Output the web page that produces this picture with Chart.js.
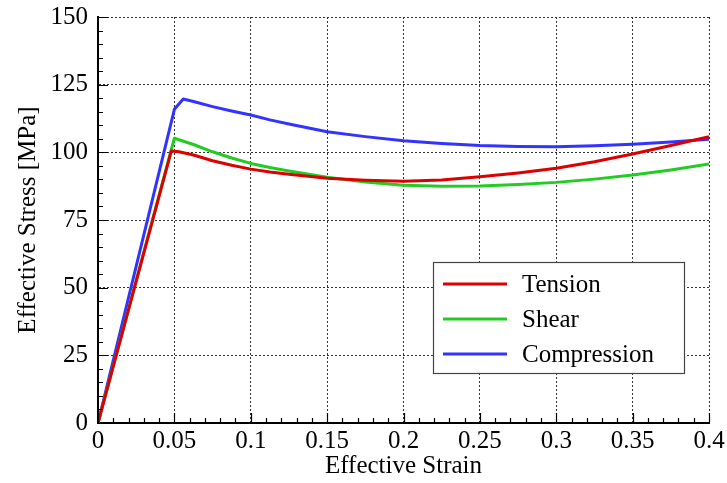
<!DOCTYPE html>
<html>
<head>
<meta charset="utf-8">
<script src="https://cdn.jsdelivr.net/npm/chart.js@4.4.1/dist/chart.umd.min.js"></script>
<style>
html,body{margin:0;padding:0;background:#fff;}
#wrap{width:727px;height:483px;position:relative;}
</style>
</head>
<body>
<div id="wrap"><canvas id="c" width="727" height="483"></canvas></div>
<script>
const seriesNames = ['Tension', 'Shear', 'Compression'];
const seriesColors = ['#dd0000', '#22cc22', '#3333ff'];

const tensionStrain = [0, 0.048, 0.053, 0.0625, 0.075, 0.0875, 0.1, 0.1125, 0.125, 0.15, 0.175, 0.2, 0.225, 0.25, 0.275, 0.3, 0.325, 0.35, 0.375, 0.4];
const tensionStress = [0, 100.5, 100.2, 99.0, 96.9, 95.2, 93.8, 92.7, 91.9, 90.4, 89.7, 89.3, 89.8, 91.0, 92.4, 94.1, 96.5, 99.4, 102.5, 105.8];

const shearStrain = [0, 0.05, 0.0625, 0.075, 0.0875, 0.1, 0.1125, 0.125, 0.15, 0.175, 0.2, 0.225, 0.25, 0.275, 0.3, 0.325, 0.35, 0.375, 0.4];
const shearStress = [0, 105.2, 102.9, 100.2, 97.9, 95.9, 94.4, 93.1, 90.8, 89.0, 87.8, 87.5, 87.6, 88.1, 88.9, 90.1, 91.6, 93.5, 95.7];

const compStrain = [0, 0.05, 0.0558, 0.0625, 0.075, 0.0875, 0.1, 0.1125, 0.125, 0.15, 0.175, 0.2, 0.225, 0.25, 0.275, 0.3, 0.325, 0.35, 0.375, 0.4];
const compStress = [0, 115.9, 119.7, 118.8, 116.9, 115.3, 113.8, 112.0, 110.5, 107.6, 105.8, 104.3, 103.3, 102.5, 102.2, 102.1, 102.4, 103.0, 103.8, 104.8];

const xTickValues = [0, 0.05, 0.1, 0.15, 0.2, 0.25, 0.3, 0.35, 0.4];
const yTickValues = [0, 25, 50, 75, 100, 125, 150];
const xTitle = 'Effective Strain';
const yTitle = 'Effective Stress [MPa]';

const FONT = "'Liberation Serif', 'Times New Roman', serif";

function pts(xs, ys) { return xs.map((x, i) => ({x: x, y: ys[i]})); }
const allX = [tensionStrain, shearStrain, compStrain];
const allY = [tensionStress, shearStress, compStress];

const datasets = seriesNames.map((n, i) => ({
  label: n,
  data: pts(allX[i], allY[i]),
  borderColor: seriesColors[i],
  backgroundColor: seriesColors[i],
  borderWidth: 3,
  pointRadius: 0,
  tension: 0,
  borderJoinStyle: 'round',
  showLine: true,
  fill: false
}));

const tickMarks = {
  id: 'tickMarks',
  afterDatasetsDraw(chart) {
    const ctx = chart.ctx, xs = chart.scales.x, ys = chart.scales.y;
    const a = chart.chartArea;
    ctx.save();
    ctx.strokeStyle = '#000';
    ctx.lineWidth = 1.2;
    ctx.beginPath();
    for (let i = 0; i <= 40; i++) {
      const v = i / 100;
      const px = Math.round(xs.getPixelForValue(v)) + 0.5;
      const len = (i % 5 === 0) ? 10 : 5;
      ctx.moveTo(px, a.bottom);
      ctx.lineTo(px, a.bottom - len);
    }
    for (let i = 0; i <= 30; i++) {
      const v = i * 5;
      const py = Math.round(ys.getPixelForValue(v)) + 0.5;
      const len = (i % 5 === 0) ? 10 : 5;
      ctx.moveTo(a.left, py);
      ctx.lineTo(a.left + len, py);
    }
    ctx.stroke();
    ctx.restore();
  }
};

const boxLegend = {
  id: 'boxLegend',
  afterDraw(chart) {
    const ctx = chart.ctx, a = chart.chartArea;
    const x0 = a.right - 276, y0 = a.bottom - 161, w = 251, h = 111;
    ctx.save();
    ctx.fillStyle = '#fff';
    ctx.fillRect(x0, y0, w, h);
    ctx.strokeStyle = '#444';
    ctx.lineWidth = 1.2;
    ctx.strokeRect(x0 + 0.5, y0 + 0.5, w, h);
    ctx.font = '25px ' + FONT;
    ctx.textBaseline = 'middle';
    ctx.textAlign = 'left';
    chart.data.datasets.forEach((d, i) => {
      const cy = y0 + 22 + i * 35;
      ctx.strokeStyle = d.borderColor;
      ctx.lineWidth = 3;
      ctx.beginPath();
      ctx.moveTo(x0 + 10, cy);
      ctx.lineTo(x0 + 74, cy);
      ctx.stroke();
      ctx.fillStyle = '#000';
      ctx.fillText(d.label, x0 + 89, cy + 1);
    });
    ctx.restore();
  }
};

new Chart(document.getElementById('c'), {
  type: 'scatter',
  data: { datasets: datasets },
  plugins: [tickMarks, boxLegend],
  options: {
    responsive: false,
    animation: false,
    devicePixelRatio: 1,
    layout: { padding: { left: 0, top: 17, right: 18, bottom: 0 } },
    plugins: { legend: { display: false }, tooltip: { enabled: false } },
    scales: {
      x: {
        type: 'linear',
        min: 0, max: 0.4,
        afterBuildTicks(s) { s.ticks = xTickValues.map(v => ({value: v})); },
        afterFit(s) { s.height = 60; s.paddingLeft = 0; s.paddingRight = 0; },
        ticks: {
          color: '#000',
          font: { family: FONT, size: 25 },
          padding: 3,
          maxRotation: 0,
          autoSkip: false,
          callback: v => String(Math.round(v * 100) / 100)
        },
        grid: { color: '#333', lineWidth: 1, drawTicks: false },
        border: { display: true, color: '#000', width: 2, dash: [2, 2] },
        title: {
          display: true, text: xTitle, color: '#000',
          font: { family: FONT, size: 25, lineHeight: 1.2 },
          padding: { top: 0, bottom: 2 }
        }
      },
      y: {
        type: 'linear',
        min: 0, max: 150,
        afterBuildTicks(s) { s.ticks = yTickValues.map(v => ({value: v})); },
        afterFit(s) { s.width = 98; s.paddingTop = 0; s.paddingBottom = 0; },
        ticks: {
          color: '#000',
          font: { family: FONT, size: 25 },
          padding: 10,
          autoSkip: false
        },
        grid: { color: '#333', lineWidth: 1, drawTicks: false },
        border: { display: true, color: '#000', width: 2, dash: [2, 2] },
        title: {
          display: true, text: yTitle, color: '#000',
          font: { family: FONT, size: 25, lineHeight: 1.2 },
          padding: { top: 13, bottom: 0 }
        }
      }
    }
  }
});
</script>
</body>
</html>
